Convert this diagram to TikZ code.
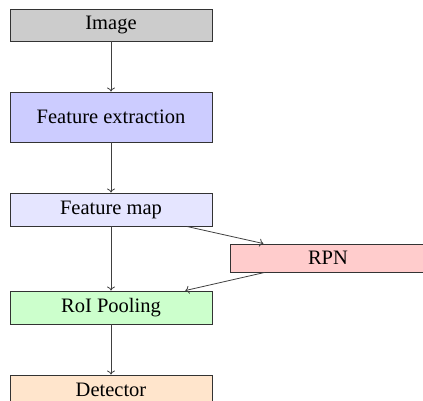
\documentclass[tikz,border=0pt]{standalone}
\usepackage{fontspec}
\setmainfont{Liberation Serif}
\usetikzlibrary{arrows.meta}
\begin{document}
\begin{tikzpicture}[x=1pt,y=-1pt,
  box/.style={draw=black!80,line width=0.9pt,minimum width=202pt,inner sep=0pt,font=\fontsize{20.5}{24}\selectfont},
  arr/.style={-{To[length=4pt,width=8pt]},draw=black!75,line width=0.8pt}]
\useasboundingbox (0,0) rectangle (423,400);
\clip (0,0) rectangle (423,400);
\node[box,fill=gray!40,minimum height=32pt] (img) at (111,25) {Image};
\node[box,fill=blue!20,minimum height=50pt] (fe) at (111,117) {Feature extraction};
\node[box,fill=blue!10,minimum height=33pt] (fm) at (111,209.5) {Feature map};
\node[box,fill=red!20,minimum height=28pt,minimum width=196pt] (rpn) at (328,258) {RPN};
\node[box,fill=green!20,minimum height=33pt] (roi) at (111,307.5) {RoI Pooling};
\node[box,fill=orange!20,minimum height=30pt] (det) at (111,390) {Detector};
\draw[arr] (img) -- (fe);
\draw[arr] (fe) -- (fm);
\draw[arr] (fm) -- (rpn);
\draw[arr] (fm) -- (roi);
\draw[arr] (rpn) -- (roi);
\draw[arr] (roi) -- (det);
\end{tikzpicture}
\end{document}
